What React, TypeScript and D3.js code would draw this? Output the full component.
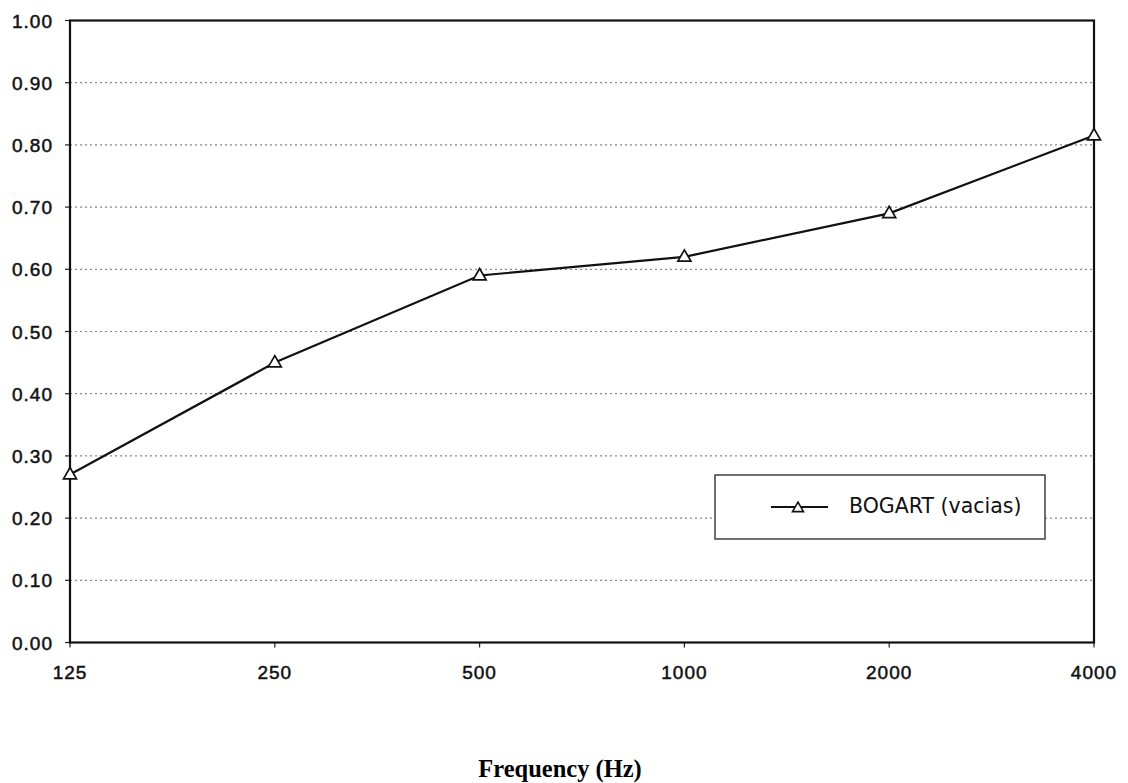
import React from "react";
import * as d3 from "d3";

const frequencies = ["125", "250", "500", "1000", "2000", "4000"];
const bogartValues = [0.27, 0.45, 0.59, 0.62, 0.69, 0.815];
const yTicks = [0, 0.1, 0.2, 0.3, 0.4, 0.5, 0.6, 0.7, 0.8, 0.9, 1.0];
const seriesName = "BOGART (vacias)";
const xTitle = "Frequency (Hz)";

const W = 1128;
const H = 783;
const M = { left: 70, right: 1094, top: 20.5, bottom: 642.5 };

function tri(cx: number, cy: number, s: number) {
  const h = s * 0.87;
  return `M${cx},${cy - h * 0.62}L${cx + s / 2},${cy + h * 0.38}L${cx - s / 2},${cy + h * 0.38}Z`;
}

export default function App() {
  const x = d3.scalePoint<string>().domain(frequencies).range([M.left, M.right]).padding(0);
  const y = d3.scaleLinear().domain([0, 1]).range([M.bottom, M.top]);
  const line = d3
    .line<number>()
    .x((_, i) => x(frequencies[i]) as number)
    .y((d) => y(d));

  const legX = 715, legY = 475, legW = 330, legH = 64;
  const tickFont = "Liberation Sans, Arial, sans-serif";

  return (
    <svg width={W} height={H} style={{ position: "absolute", left: 0, top: 0, background: "#fff" }}>
      <rect x={0} y={0} width={W} height={H} fill="#fff" />
      {yTicks.slice(1, -1).map((t) => (
        <line key={"g" + t} x1={M.left} x2={M.right} y1={y(t)} y2={y(t)} stroke="#888" strokeWidth={1.2} strokeDasharray="2,3" />
      ))}
      {yTicks.map((t) => (
        <g key={"t" + t}>
          <line x1={M.left - 5} x2={M.left} y1={y(t)} y2={y(t)} stroke="#222" strokeWidth={1.2} />
          <text x={53} y={y(t) + 7} textAnchor="end" fontFamily={tickFont} fontSize={19} letterSpacing={1} fill="#111" stroke="#111" strokeWidth={0.5}>
            {t.toFixed(2)}
          </text>
        </g>
      ))}
      {frequencies.map((f) => (
        <g key={"x" + f}>
          <line x1={x(f)} x2={x(f)} y1={M.bottom} y2={M.bottom + 5} stroke="#222" strokeWidth={1.2} />
          <text x={x(f)} y={679} textAnchor="middle" fontFamily={tickFont} fontSize={19} letterSpacing={1} fill="#111" stroke="#111" strokeWidth={0.5}>
            {f}
          </text>
        </g>
      ))}
      <rect x={M.left} y={M.top} width={M.right - M.left} height={M.bottom - M.top} fill="none" stroke="#111" strokeWidth={2.2} />
      <path d={line(bogartValues) as string} fill="none" stroke="#111" strokeWidth={2.2} />
      {bogartValues.map((v, i) => (
        <path key={"m" + i} d={tri(x(frequencies[i]) as number, y(v), 13)} fill="#fff" stroke="#111" strokeWidth={1.7} />
      ))}
      <rect x={legX} y={legY} width={legW} height={legH} fill="#fff" stroke="#333" strokeWidth={1.4} />
      <line x1={771} x2={828} y1={legY + legH / 2} y2={legY + legH / 2} stroke="#111" strokeWidth={2} />
      <path d={tri(798, legY + legH / 2 + 1, 11)} fill="#fff" stroke="#111" strokeWidth={1.6} />
      <text x={849} y={513} fontFamily="DejaVu Sans, sans-serif" fontSize={20.5} fill="#111">
        {seriesName}
      </text>
      <text x={560} y={777} textAnchor="middle" fontFamily="Liberation Serif, Times New Roman, serif" fontWeight="bold" fontSize={24.5} fill="#000">
        {xTitle}
      </text>
    </svg>
  );
}
